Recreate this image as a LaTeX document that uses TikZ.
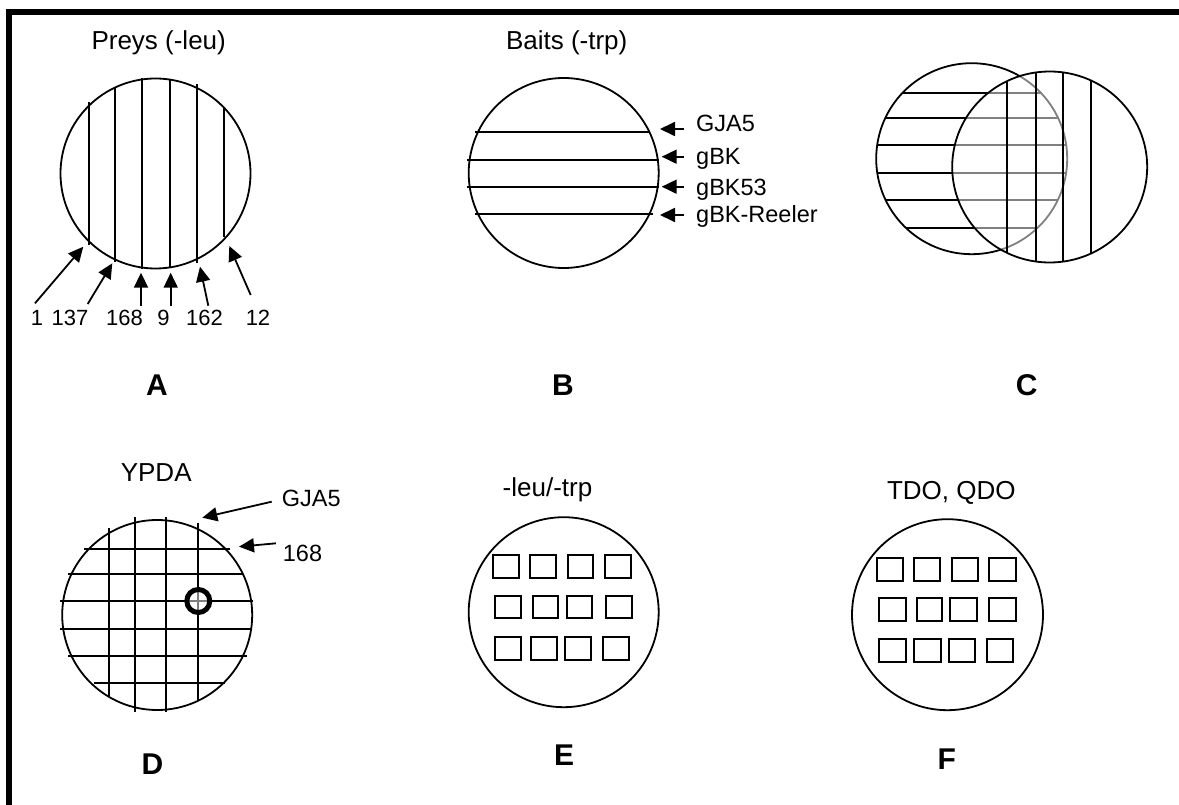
\documentclass[tikz,border=0pt]{standalone}
\usepackage{fontspec}
\setmainfont{Liberation Sans}
\usetikzlibrary{arrows.meta}

\tikzset{
  plate/.style={line width=1.8pt},
  streak/.style={line width=1.8pt},
  ptr/.style={line width=1.8pt, -{Triangle[length=15pt,width=14pt]}},
  patch/.style={line width=2pt},
  title/.style={anchor=base, inner sep=0pt, font=\fontsize{26}{30}\selectfont},
  lbl/.style={anchor=base, inner sep=0pt, font=\fontsize{22}{26}\selectfont},
  gene/.style={anchor=base west, inner sep=0pt, font=\fontsize{23.5}{27}\selectfont},
  panel/.style={anchor=base, inner sep=0pt, font=\fontsize{30}{34}\selectfont\bfseries},
}

\begin{document}
\begin{tikzpicture}[x=1pt, y=-1pt]
\useasboundingbox (0,0) rectangle (1179,805);

% frame
\draw[line width=6pt] (9,810) -- (9,12) -- (1185,12);

% ---------- A: preys streaked as columns ----------
\node[title] (tA) at (158.7,49.3) {Preys (-leu)};
\draw[plate] (155.5,173.5) circle[radius=95pt];
\foreach \x/\ya/\yb in {89.3/101.7/245, 115/87.3/261.7, 142.3/78.3/268.6,
                        170/78.6/268.4, 197.3/84.3/262.7, 224.3/108.3/237.3}
  \draw[streak] (\x,\ya) -- (\x,\yb);
\node[lbl] (p1)   at (37,326)    {1};
\node[lbl] (p137) at (70,326)    {137};
\node[lbl] (p168) at (124.5,326) {168};
\node[lbl] (p9)   at (163.5,326) {9};
\node[lbl] (p162) at (204.5,326) {162};
\node[lbl] (p12)  at (258,326)   {12};
\coordinate (s1) at (35,303.3);    \coordinate (e1) at (83.3,246.7);
\coordinate (s2) at (87.7,304);    \coordinate (e2) at (112.3,263.3);
\coordinate (s3) at (141,305.7);   \coordinate (e3) at (141,272.7);
\coordinate (s4) at (170.7,305.7); \coordinate (e4) at (170.7,272.7);
\coordinate (s5) at (208.3,305.7); \coordinate (e5) at (200,266.7);
\coordinate (s6) at (250.7,295);   \coordinate (e6) at (229.3,246);
\foreach \i in {1,...,6} \draw[ptr] (s\i) -- (e\i);
\node[panel] (lA) at (157,395) {A};

% ---------- B: baits streaked as rows ----------
\node[title] (tB) at (566.7,49.3) {Baits (-trp)};
\draw[plate] (563.7,173) circle[radius=95pt];
\foreach \y/\xa/\xb in {132.3/475/650, 159.7/467.3/659.3, 187.3/467.3/659.3, 214/475/653}
  \draw[streak] (\xa,\y) -- (\xb,\y);
\node[gene] (gGJA) at (696,131.7) {GJA5};
\node[gene] (gBK)  at (696,164.3) {gBK};
\node[gene] (gB53) at (696,195.7) {gBK53};
\node[gene] (gBR)  at (696,223)   {gBK-Reeler};
\coordinate (b1s) at (684.3,129);   \coordinate (b1e) at (660,129);
\coordinate (b2s) at (684.3,156.7); \coordinate (b2e) at (661.7,156.7);
\coordinate (b3s) at (684.3,186.7); \coordinate (b3e) at (661.7,186.7);
\coordinate (b4s) at (684.3,215);   \coordinate (b4e) at (660,215);
\foreach \i in {1,...,4} \draw[ptr] (b\i s) -- (b\i e);
\node[panel] (lB) at (563,395) {B};

% ---------- C: replica of rows over columns ----------
\draw[plate] (971.7,158.7) circle[radius=95.5pt];
\begin{scope}
  \clip (971.7,158.7) circle[radius=95.5pt];
  \foreach \y in {92.7,117.7,145,172.7,200,227.7}
    \draw[streak] (860,\y) -- (1080,\y);
\end{scope}
\fill[white, fill opacity=0.5] (1049.7,167) ellipse[x radius=97.5pt, y radius=95.5pt];
\draw[plate] (1049.7,167) ellipse[x radius=97.5pt, y radius=95.5pt];
\begin{scope}
  \clip (1049.7,167) ellipse[x radius=97.5pt, y radius=95.5pt];
  \foreach \x in {1006.7,1035.7,1063.3,1091}
    \draw[streak] (\x,60) -- (\x,275);
\end{scope}
\node[panel] (lC) at (1026.7,395) {C};

% ---------- D: mating grid on YPDA ----------
\node[title] (tD) at (156.2,481) {YPDA};
\draw[plate] (157.2,615) circle[radius=95pt];
\foreach \x/\ya/\yb in {109/528.3/696, 135/517.3/711.7, 166/517.3/711.7, 198.3/523.3/700}
  \draw[streak] (\x,\ya) -- (\x,\yb);
\foreach \y/\xa/\xb in {549/84/230, 574/68.3/243.3, 601/60/253.3,
                        628.7/60/252.3, 656/68.3/246.7, 683.3/94.3/225}
  \draw[streak] (\xa,\y) -- (\xb,\y);
\fill[white, fill opacity=0.5] (198.3,601) circle[radius=11.5pt];
\draw[line width=5pt] (198.3,601) circle[radius=11.5pt];
\node[gene] (dGJA) at (281.7,506) {GJA5};
\node[gene] (d168) at (282.7,561) {168};
\coordinate (d1s) at (271.7,501.7); \coordinate (d1e) at (202.3,517.7);
\coordinate (d2s) at (276,543.3);   \coordinate (d2e) at (239,546.7);
\draw[ptr] (d1s) -- (d1e);
\draw[ptr] (d2s) -- (d2e);
\node[panel] (lD) at (152.5,774.3) {D};

% ---------- E: diploid patches on -leu/-trp ----------
\node[title] (tE) at (547.5,496.7) {-leu/-trp};
\draw[plate] (563.7,612.2) circle[radius=95pt];
\foreach \xa/\xb/\ya/\yb in {
    492.3/520/554.3/579, 529/556.7/554.3/579, 566.7/594.3/554.3/579, 604.3/632.3/554.3/579,
    494.3/522.3/595/619.3, 531.7/559/595/619.3, 565.7/593.3/595/619.3, 604.7/632.7/595/619.3,
    494.3/522.3/636/660.7, 530/557.7/636/660.7, 564/592.3/636/660.7, 601.7/630/636/660.7}
  \draw[patch] (\xa+1,\ya+1) rectangle (\xb-1,\yb-1);
\node[panel] (lE) at (564,765) {E};

% ---------- F: selection on TDO, QDO ----------
\node[title] (tF) at (951.3,499) {TDO, QDO};
\draw[plate] (947.5,614.7) circle[radius=95.5pt];
\foreach \xa/\xb/\ya/\yb in {
    876/904.3/556.7/581.7, 912.7/941/556.7/581.7, 950.7/979/556.7/581.7, 988.3/1016.7/556.7/581.7,
    878.3/906.7/597.3/622.3, 915.7/943.3/597.3/622.3, 949.3/978.3/597.3/622.3, 988.3/1016.7/597.3/622.3,
    878.3/906.7/638.3/663.3, 913.3/941.7/638.3/663.3, 947.7/976/638.3/663.3, 985.7/1014/638.3/663.3}
  \draw[patch] (\xa+1,\ya+1) rectangle (\xb-1,\yb-1);
\node[panel] (lF) at (946.7,769.3) {F};
\end{tikzpicture}
\end{document}
